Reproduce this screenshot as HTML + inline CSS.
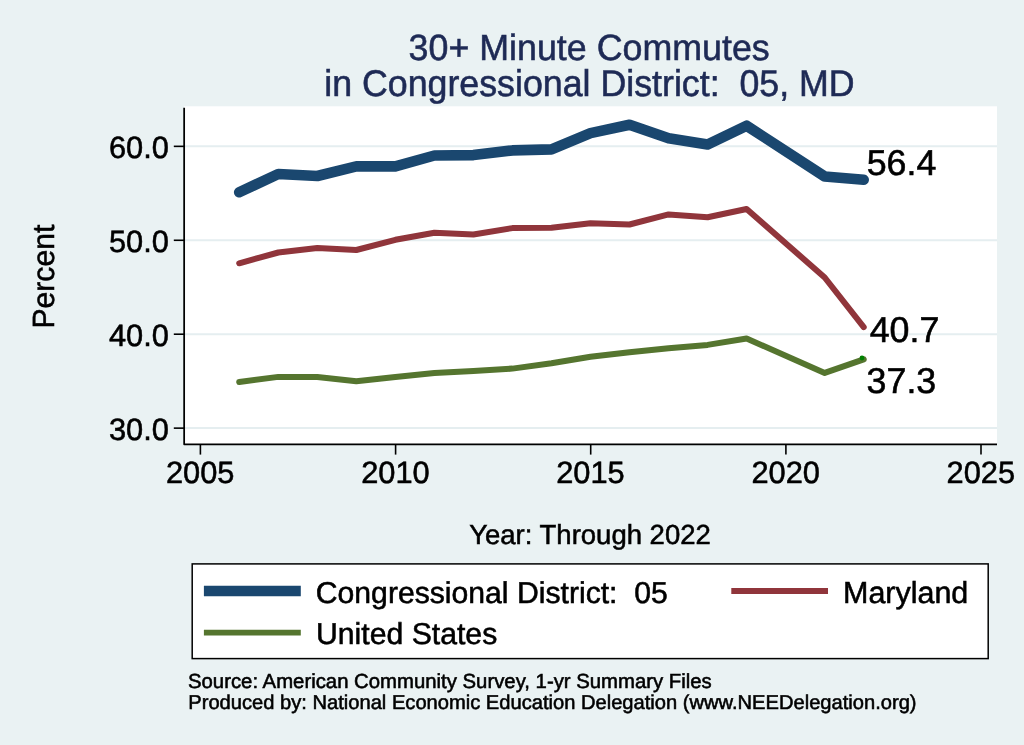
<!DOCTYPE html>
<html><head><meta charset="utf-8"><title>30+ Minute Commutes</title>
<style>html,body{margin:0;padding:0;background:#EAF2F3;overflow:hidden}svg{display:block;will-change:transform}text{font-family:"Liberation Sans",sans-serif;stroke:#000;stroke-width:0.55px;white-space:pre;text-rendering:geometricPrecision}</style>
</head><body>
<svg width="1024" height="745" viewBox="0 0 1024 745" font-family="Liberation Sans, sans-serif">
<rect x="0" y="0" width="1024" height="745" fill="#EAF2F3"/>
<rect x="184" y="106.3" width="813" height="338" fill="#fff"/>
<line x1="185" x2="997" y1="146.30" y2="146.30" stroke="#E5EEF0" stroke-width="2"/>
<line x1="185" x2="997" y1="240.23" y2="240.23" stroke="#E5EEF0" stroke-width="2"/>
<line x1="185" x2="997" y1="334.16" y2="334.16" stroke="#E5EEF0" stroke-width="2"/>
<line x1="185" x2="997" y1="428.09" y2="428.09" stroke="#E5EEF0" stroke-width="2"/>
<polyline points="184.15,107.8 184.15,444.25 997,444.25" fill="none" stroke="#000" stroke-width="1.75" stroke-linejoin="round"/>
<line x1="173.8" x2="184" y1="146.35" y2="146.35" stroke="#000" stroke-width="1.6"/>
<text x="168.9" y="157.8" text-anchor="end" font-size="30.8">60.0</text>
<line x1="173.8" x2="184" y1="240.28" y2="240.28" stroke="#000" stroke-width="1.6"/>
<text x="168.9" y="251.7" text-anchor="end" font-size="30.8">50.0</text>
<line x1="173.8" x2="184" y1="334.21" y2="334.21" stroke="#000" stroke-width="1.6"/>
<text x="168.9" y="345.7" text-anchor="end" font-size="30.8">40.0</text>
<line x1="173.8" x2="184" y1="428.14" y2="428.14" stroke="#000" stroke-width="1.6"/>
<text x="168.9" y="439.6" text-anchor="end" font-size="30.8">30.0</text>
<line x1="200.4" x2="200.4" y1="444" y2="454.6" stroke="#000" stroke-width="1.6"/>
<text x="200.2" y="483.2" text-anchor="middle" font-size="30.8">2005</text>
<line x1="395.6" x2="395.6" y1="444" y2="454.6" stroke="#000" stroke-width="1.6"/>
<text x="395.4" y="483.2" text-anchor="middle" font-size="30.8">2010</text>
<line x1="590.7" x2="590.7" y1="444" y2="454.6" stroke="#000" stroke-width="1.6"/>
<text x="590.5" y="483.2" text-anchor="middle" font-size="30.8">2015</text>
<line x1="785.9" x2="785.9" y1="444" y2="454.6" stroke="#000" stroke-width="1.6"/>
<text x="785.7" y="483.2" text-anchor="middle" font-size="30.8">2020</text>
<line x1="981.0" x2="981.0" y1="444" y2="454.6" stroke="#000" stroke-width="1.6"/>
<text x="980.8" y="483.2" text-anchor="middle" font-size="30.8">2025</text>
<text x="590" y="544.1" text-anchor="middle" font-size="27.5">Year: Through 2022</text>
<text transform="translate(54.3,276.6) rotate(-90) scale(1,1.02)" x="0" y="0" text-anchor="middle" font-size="30.1">Percent</text>
<text transform="translate(589.15,60.3) scale(1,1.02)" text-anchor="middle" font-size="35.8" fill="#1E2A55" style="stroke:#1E2A55">30+ Minute Commutes</text>
<text transform="translate(589.45,95.65) scale(1,1.04)" text-anchor="middle" font-size="35.75" fill="#1E2A55" style="stroke:#1E2A55">in Congressional District:  05, MD</text>
<polyline points="239.2,382.0 278.3,376.9 317.3,376.9 356.3,381.3 395.4,377.1 434.4,373.1 473.4,371.0 512.4,368.6 551.5,363.2 590.5,356.8 629.5,352.3 668.6,348.3 707.6,344.9 746.6,338.5 824.7,372.9 863.7,359.3" fill="none" stroke="#55752F" stroke-width="6" stroke-linejoin="round" stroke-linecap="round"/>
<polyline points="239.2,263.3 278.3,252.5 317.3,247.9 356.3,250.0 395.4,239.8 434.4,232.7 473.4,234.5 512.4,228.1 551.5,227.8 590.5,223.3 629.5,224.5 668.6,214.4 707.6,217.3 746.6,209.0 824.7,277.5 863.7,327.1" fill="none" stroke="#90353B" stroke-width="6" stroke-linejoin="round" stroke-linecap="round"/>
<polyline points="239.2,192.2 278.3,174.0 317.3,176.0 356.3,166.4 395.4,166.4 434.4,155.5 473.4,155.1 512.4,150.4 551.5,149.4 590.5,133.1 629.5,124.7 668.6,138.2 707.6,144.5 746.6,125.7 824.7,176.5 863.7,179.8" fill="none" stroke="#1A476F" stroke-width="10.6" stroke-linejoin="round" stroke-linecap="round"/>
<circle cx="862" cy="358" r="2.4" fill="#008000"/>
<text transform="translate(866.7,175.1)" font-size="35.8">56.4</text>
<text transform="translate(869.7,342.0)" font-size="35.8">40.7</text>
<text transform="translate(866.6,393.0)" font-size="35.8">37.3</text>
<rect x="192.2" y="563.9" width="796" height="94.7" fill="#fff" stroke="#000" stroke-width="1.5"/>
<line x1="203.9" x2="300.8" y1="591.1" y2="591.1" stroke="#1A476F" stroke-width="10.5"/>
<line x1="731.3" x2="828" y1="591.0" y2="591.0" stroke="#90353B" stroke-width="6"/>
<line x1="203.9" x2="300.8" y1="632.6" y2="632.6" stroke="#55752F" stroke-width="5.8"/>
<text x="315.8" y="602.9" font-size="30.17" style="white-space:pre">Congressional District:  05</text>
<text x="843.0" y="603.0" font-size="30.47">Maryland</text>
<text x="316.0" y="644.2" font-size="30.2">United States</text>
<text x="188" y="687.7" font-size="20.34">Source: American Community Survey, 1-yr Summary Files</text>
<text x="188.3" y="708.6" font-size="20.14">Produced by: National Economic Education Delegation (www.NEEDelegation.org)</text>
</svg>
</body></html>
